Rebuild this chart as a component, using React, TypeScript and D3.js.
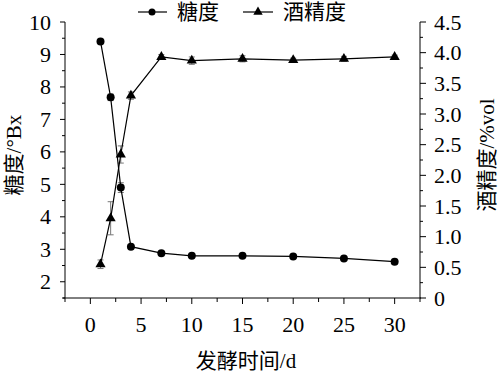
import React from 'react';
import * as d3 from 'd3';

// fermentation day
const days = [1, 2, 3, 4, 7, 10, 15, 20, 25, 30];
// 糖度 °Bx
const sugar = [9.4, 7.68, 4.9, 3.08, 2.88, 2.8, 2.8, 2.78, 2.72, 2.62];
const sugarErr = [0.03, 0.1, 0.15, 0.05, 0.04, 0.04, 0.04, 0.04, 0.04, 0.07];
// 酒精度 %vol
const alcohol = [0.55, 1.3, 2.34, 3.3, 3.93, 3.87, 3.9, 3.88, 3.9, 3.93];
const alcoholErr = [0.07, 0.27, 0.14, 0.06, 0.04, 0.06, 0.05, 0.03, 0.04, 0.03];

const xTicks = [0, 5, 10, 15, 20, 25, 30];
const leftTicks = [2, 3, 4, 5, 6, 7, 8, 9, 10];
const rightTicks = [0, 0.5, 1.0, 1.5, 2.0, 2.5, 3.0, 3.5, 4.0, 4.5];

const W = 501;
const H = 374;
const latin = "'Liberation Serif', 'DejaVu Serif', serif";
const cjk = "'Liberation Serif', 'Noto Sans CJK SC', sans-serif";

export default function App() {
  const x = d3.scaleLinear().domain([-2.5, 32.5]).range([65, 420]);
  const yL = d3.scaleLinear().domain([1.5, 10]).range([298, 22]);
  const yR = d3.scaleLinear().domain([0, 4.5]).range([298, 22]);

  const xMinor = d3.range(-2.5, 32.51, 2.5);
  const lMinor = d3.range(1.5, 10.01, 0.5);
  const rMinor = d3.range(0, 4.51, 0.25);

  const sugarLine = d3.line<number>().x((_, i) => x(days[i])).y(d => yL(d));
  const alcLine = d3.line<number>().x((_, i) => x(days[i])).y(d => yR(d));
  const tri = d3.symbol(d3.symbolTriangle, 45)()!;

  const errBar = (cx: number, y0: number, y1: number, key: string) => (
    <g key={key} stroke="#777" strokeWidth={1}>
      <line x1={cx} x2={cx} y1={y0} y2={y1} />
      <line x1={cx - 3} x2={cx + 3} y1={y0} y2={y0} />
      <line x1={cx - 3} x2={cx + 3} y1={y1} y2={y1} />
    </g>
  );

  return (
    <svg width={W} height={H} style={{ position: 'absolute', left: 0, top: 0, background: '#fff' }}>
      {/* axes */}
      <g stroke="#000" strokeWidth={1} fill="none">
        <line x1={63} x2={421} y1={298} y2={298} />
        <line x1={65} x2={65} y1={22} y2={298} />
        <line x1={420} x2={420} y1={22} y2={298} />
        {xMinor.map(v => (
          <line key={'xm' + v} x1={x(v)} x2={x(v)} y1={298} y2={xTicks.includes(v) ? 304 : 302} />
        ))}
        {lMinor.map(v => (
          <line key={'lm' + v} x1={65} x2={Number.isInteger(v) ? 60 : 62} y1={yL(v)} y2={yL(v)} />
        ))}
        {rMinor.map(v => (
          <line key={'rm' + v} x1={420} x2={Math.abs(v * 2 - Math.round(v * 2)) < 1e-6 ? 426 : 423} y1={yR(v)} y2={yR(v)} />
        ))}
      </g>
      <g style={{ fontFamily: latin, fontSize: 22 }} fill="#000">
        {xTicks.map(v => (
          <text key={'xt' + v} x={x(v)} y={332} textAnchor="middle">{v}</text>
        ))}
        {leftTicks.map(v => (
          <text key={'lt' + v} x={51} y={yL(v) + 7.5} textAnchor="end">{v}</text>
        ))}
        {rightTicks.map(v => (
          <text key={'rt' + v} x={434} y={yR(v) + 7.5} textAnchor="start">{v === 0 ? '0' : v.toFixed(1)}</text>
        ))}
      </g>

      {/* axis titles */}
      <g style={{ fontFamily: cjk, fontSize: 21 }} fill="#000">
        <text x={246} y={368} textAnchor="middle">发酵时间/d</text>
        <text transform="translate(21,155) rotate(-90)" textAnchor="middle">糖度/°Bx</text>
        <text transform="translate(494,155) rotate(-90)" textAnchor="middle">酒精度/%vol</text>
      </g>

      {/* error bars */}
      {days.map((d, i) => errBar(x(d), yL(sugar[i] - sugarErr[i]), yL(sugar[i] + sugarErr[i]), 'se' + i))}
      {days.map((d, i) => errBar(x(d), yR(alcohol[i] - alcoholErr[i]), yR(alcohol[i] + alcoholErr[i]), 'ae' + i))}

      {/* series */}
      <path d={sugarLine(sugar)!} fill="none" stroke="#000" strokeWidth={1.2} />
      <path d={alcLine(alcohol)!} fill="none" stroke="#000" strokeWidth={1.2} />
      {sugar.map((v, i) => (
        <circle key={'sc' + i} cx={x(days[i])} cy={yL(v)} r={4} fill="#000" />
      ))}
      {alcohol.map((v, i) => (
        <path key={'at' + i} d={tri} transform={`translate(${x(days[i])},${yR(v)})`} fill="#000" />
      ))}

      {/* legend */}
      <g style={{ fontFamily: cjk, fontSize: 21 }}>
        <line x1={138} x2={167} y1={12} y2={12} stroke="#000" strokeWidth={1.2} />
        <circle cx={152} cy={12} r={3.5} fill="#000" />
        <text x={177} y={19}>糖度</text>
        <line x1={243} x2={273} y1={12} y2={12} stroke="#000" strokeWidth={1.2} />
        <path d={d3.symbol(d3.symbolTriangle, 38)()!} transform="translate(258,12)" fill="#000" />
        <text x={283} y={19}>酒精度</text>
      </g>
    </svg>
  );
}
